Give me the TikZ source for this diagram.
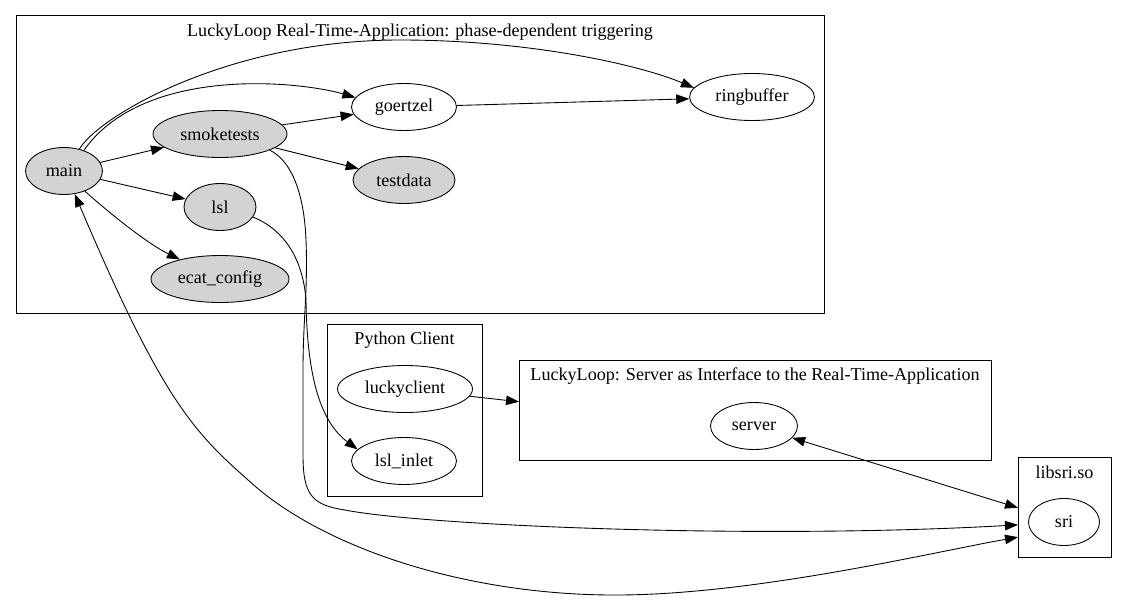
\documentclass[tikz,border=0pt]{standalone}
\usepackage{fontspec}
\setmainfont{Liberation Serif}
\newfontfamily\gvfont{Liberation Serif}
\usetikzlibrary{arrows.meta,shapes.geometric}
\definecolor{lightgrey}{HTML}{D3D3D3}

\begin{document}
\begin{tikzpicture}[>={Triangle[length=7.4pt,width=5.4pt]},x=0.02cm,y=-0.02cm,line width=0.5pt,
	mod/.style={draw,ellipse,inner sep=0pt,minimum height=0.94cm,font=\gvfont\fontsize{10.3}{12}\selectfont},
	modgray/.style={mod,fill=lightgrey},
	cluster/.style={draw,rectangle,inner sep=0pt,outer sep=0pt},
	clusterlabel/.style={inner sep=0pt,anchor=base,font=\gvfont\fontsize{10.3}{12}\selectfont}]
\useasboundingbox (0,0) rectangle (1126,602);

% clusters
\node[cluster,minimum width=16.18cm,minimum height=5.96cm] (rtapp) at (420.5,164) {};
\node[clusterlabel] (rtapplabel) at (420,36) {LuckyLoop Real-Time-Application: phase-dependent triggering};
\node[cluster,minimum width=3.1cm,minimum height=3.44cm] (pyclient) at (404.5,410) {};
\node[clusterlabel] (pyclientlabel) at (404.5,344) {Python Client};
\node[cluster,minimum width=9.44cm,minimum height=2cm] (srvbox) at (755,410) {};
\node[clusterlabel] (srvboxlabel) at (755,380) {LuckyLoop: Server as Interface to the Real-Time-Application};
\node[cluster,minimum width=1.86cm,minimum height=2cm] (libsri) at (1064.5,507) {};
\node[clusterlabel] (libsrilabel) at (1064.5,478) {libsri.so};

% modules
\node[modgray,minimum width=1.54cm] (main) at (64,171) {main};
\node[modgray,minimum width=2.68cm] (smoketests) at (220,134) {smoketests};
\node[mod,minimum width=2.1cm] (goertzel) at (404,107) {goertzel};
\node[modgray,minimum width=2.04cm] (testdata) at (404,180) {testdata};
\node[modgray,minimum width=1.44cm] (lsl) at (220,207) {lsl};
\node[modgray,minimum width=2.76cm] (ecatconfig) at (220,279) {ecat\_config};
\node[mod,minimum width=2.5cm] (ringbuffer) at (752,97) {ringbuffer};
\node[mod,minimum width=2.7cm] (luckyclient) at (405,389) {luckyclient};
\node[mod,minimum width=2.1cm] (lslinlet) at (404,461) {lsl\_inlet};
\node[mod,minimum width=1.74cm] (server) at (754,426) {server};
\node[mod,minimum width=1.42cm] (sri) at (1064,522) {sri};

% dependencies
\draw[->] (main) -- (smoketests);
\draw[->] (main) -- (lsl);
\draw[->] (smoketests) -- (goertzel);
\draw[->] (smoketests) -- (testdata);
\draw[->] (goertzel) -- (ringbuffer);
\draw[->] (main.55) .. controls (100,115) and (230,40) .. (400,40)
	.. controls (530,40) and (640,65) .. (ringbuffer.171);
\draw[->] (main.46) .. controls (105,120) and (150,88) .. (240,84)
	.. controls (290,82) and (330,90) .. (goertzel.169);
\draw[->] (main.-44) .. controls (115,218) and (150,245) .. (ecatconfig.154);
\draw[->] (smoketests.-18) .. controls (290,160) and (304,190) .. (306,240)
	.. controls (308,290) and (303,320) .. (303,370) -- (303,455)
	.. controls (303,495) and (312,505) .. (345,510)
	.. controls (420,525) and (750,540) .. (libsri.201);
\draw[->] (lsl.-17) .. controls (285,230) and (303,260) .. (306,300)
	.. controls (307,370) and (318,420) .. (lslinlet.166);
\draw[<->] (main.-65) .. controls (166,408.5) and (196,434) .. (256,487)
	.. controls (330,550) and (470,596) .. (620,595)
	.. controls (760,594) and (938,551) .. (libsri.213.7);
\draw[->] (luckyclient) -- (srvbox.178);
\draw[<->] (server) -- (libsri.181);

\end{tikzpicture}
\end{document}
